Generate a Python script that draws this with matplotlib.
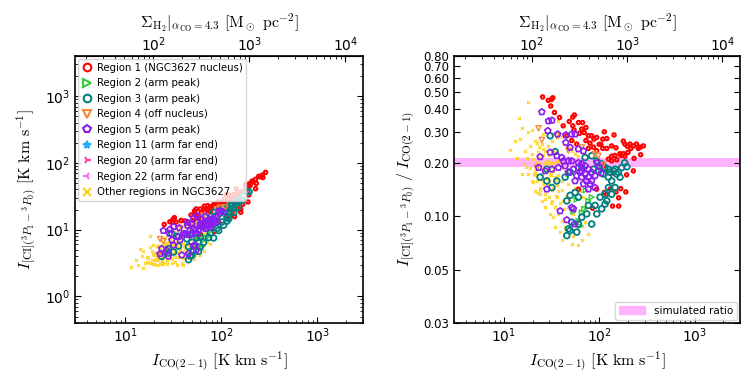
import numpy as np
import matplotlib.pyplot as plt
from matplotlib.lines import Line2D
from matplotlib.patches import Patch
from matplotlib.ticker import (FixedLocator, FormatStrFormatter, NullLocator, NullFormatter,
                               LogFormatterSciNotation)

plt.rcParams['mathtext.fontset'] = 'cm'
plt.rcParams['font.family'] = ['DejaVu Sans']
plt.rcParams['xtick.direction'] = 'in'
plt.rcParams['ytick.direction'] = 'in'

# I_CO(2-1) [K km/s] and CI/CO ratio
co_r1 = [25.5, 29.2, 31.6, 32.6, 31.0, 33.9, 38.3, 55, 52.8, 48.5, 52.8, 60.6, 66.9, 72.5, 65.5, 69.5,
         77, 83.4, 88, 94, 109, 113, 143, 120, 104, 109, 120, 135, 150, 179, 186, 197, 210, 228, 246,
         268, 290, 257, 215, 200, 179, 165, 146, 135, 125, 153, 169, 186, 232, 272, 94, 72.5, 62, 54.4,
         41.9, 45.7, 51.5, 58.1, 77, 86.9, 113, 135, 141, 194, 228, 80, 100, 60.6, 94, 113, 120, 150,
         168, 190, 160, 138, 160, 85, 130]
ratio_r1 = [0.47, 0.45, 0.455, 0.465, 0.418, 0.384, 0.36, 0.372, 0.362, 0.342, 0.323, 0.337, 0.337,
            0.316, 0.31, 0.296, 0.284, 0.284, 0.272, 0.278, 0.272, 0.299, 0.287, 0.274, 0.254, 0.241,
            0.241, 0.249, 0.243, 0.265, 0.255, 0.248, 0.255, 0.249, 0.255, 0.245, 0.249, 0.241, 0.241,
            0.229, 0.225, 0.225, 0.22, 0.218, 0.21, 0.208, 0.22, 0.218, 0.212, 0.222, 0.234, 0.267, 0.293,
            0.306, 0.323, 0.284, 0.267, 0.255, 0.241, 0.245, 0.192, 0.205, 0.175, 0.171, 0.18, 0.258,
            0.254, 0.142, 0.142, 0.136, 0.133, 0.137, 0.143, 0.137, 0.127, 0.114, 0.114, 0.111, 0.142]

co_r2 = [58, 60.5, 63, 69.5, 65.6, 53.6, 77, 83.4, 47.5, 72]
ratio_r2 = [0.124, 0.094, 0.088, 0.11, 0.105, 0.106, 0.122, 0.128, 0.173, 0.14]

co_r3 = [30.6, 34.5, 28.2, 24.0, 35.9, 43.9, 49.5, 65.6, 71.1, 83.4, 94.2, 106, 125, 141, 152, 165,
         172, 135, 125, 115, 102, 90.4, 77, 74, 65.6, 60.5, 51.5, 47.5, 45.7, 49.5, 58.1, 83.4, 94.2,
         106, 115, 120, 135, 147, 49.5, 55.8, 60.5, 45.7, 31.9, 28.2, 115, 130, 147, 159, 110, 125, 98,
         87, 185, 195]
ratio_r3 = [0.284, 0.231, 0.184, 0.166, 0.158, 0.166, 0.177, 0.188, 0.214, 0.219, 0.205, 0.197, 0.184,
            0.18, 0.173, 0.166, 0.188, 0.158, 0.145, 0.133, 0.128, 0.115, 0.115, 0.103, 0.0986, 0.0903,
            0.0924, 0.0848, 0.0777, 0.083, 0.0813, 0.0903, 0.103, 0.11, 0.117, 0.122, 0.133, 0.145,
            0.131, 0.136, 0.128, 0.122, 0.145, 0.158, 0.188, 0.177, 0.184, 0.177, 0.173, 0.166, 0.18,
            0.184, 0.2, 0.19]

co_r4 = [23.1, 25, 35.9, 22.2, 98, 110, 90, 47.5, 65.6]
ratio_r4 = [0.313, 0.269, 0.284, 0.188, 0.219, 0.195, 0.224, 0.234, 0.244]

co_r5 = [25.0, 29.4, 31.9, 28.9, 36.7, 44.6, 51.5, 55.8, 44.6, 49.5, 60.5, 68.3, 24, 30.6, 35.9, 40.5,
         37.3, 43.9, 51.5, 60.5, 65.6, 71.1, 77, 83.4, 68.3, 77, 90.4, 65.6, 55.8, 47.5, 31.9, 27.1,
         23.1, 28.2, 38.9, 45.7, 55, 51.5, 53.6, 60.5, 65.6, 71.1, 77, 83.4, 90.4, 73.5, 80, 63, 58,
         53.6, 47.5, 42.2, 100, 95, 105]
ratio_r5 = [0.387, 0.344, 0.347, 0.303, 0.29, 0.287, 0.29, 0.29, 0.26, 0.244, 0.239, 0.233, 0.216,
            0.229, 0.219, 0.214, 0.188, 0.192, 0.205, 0.2, 0.18, 0.173, 0.166, 0.158, 0.152, 0.142,
            0.145, 0.166, 0.158, 0.177, 0.184, 0.18, 0.188, 0.142, 0.107, 0.0953, 0.0903, 0.112, 0.11,
            0.188, 0.197, 0.192, 0.184, 0.177, 0.169, 0.158, 0.152, 0.177, 0.169, 0.184, 0.205, 0.205,
            0.19, 0.2, 0.175]

co_r11, ratio_r11 = [], []
co_r20, ratio_r20 = [], []
co_r22, ratio_r22 = [], []

co_other = [18.1, 14.3, 11.6, 13.7, 14.8, 18.1, 19.6, 21.3, 23.1, 25.0, 27.1, 19.6, 17.4, 16.1, 18.9,
            21.3, 25.0, 22.2, 24.0, 27.1, 29.4, 25.0, 31.9, 34.5, 37.3, 40.5, 34.5, 38.9, 43.9, 51.5,
            60.5, 65.6, 77.1, 71.1, 68.3, 63, 55.8, 47.5, 40.5, 37.3, 34.5, 30.6, 28.2, 31.9, 35.9,
            40.5, 45.7, 51.5, 55.8, 60.5, 23.1, 19.6, 26, 29.4, 33.1, 35.9, 42.2, 47.5, 53.6, 27.1,
            30.6, 33.1, 25, 22.2, 20.5, 18.1, 15.4, 16.7, 53.6, 47.5, 35.9, 40.5, 21.3, 24, 40.5, 53.6,
            65.6, 71.1, 15.4, 13.1, 37.3, 31.9,
            20, 22, 24, 26, 28, 30, 32, 21, 23, 25, 27, 29, 31, 33, 35, 19, 22, 26, 30, 34, 38, 24, 28,
            32, 36, 20, 23, 27, 31, 35, 39, 43, 17, 26, 29, 33, 37, 41, 45, 48]
ratio_other = [0.441, 0.36, 0.236, 0.214, 0.272, 0.3, 0.305, 0.266, 0.244, 0.255, 0.234, 0.224, 0.214,
               0.197, 0.188, 0.18, 0.173, 0.158, 0.145, 0.133, 0.128, 0.122, 0.122, 0.112, 0.103,
               0.0943, 0.0865, 0.0813, 0.0865, 0.0699, 0.0684, 0.073, 0.0795, 0.112, 0.128, 0.139,
               0.145, 0.152, 0.158, 0.139, 0.166, 0.173, 0.205, 0.266, 0.278, 0.278, 0.25, 0.234,
               0.224, 0.219, 0.214, 0.158, 0.152, 0.158, 0.145, 0.128, 0.122, 0.112, 0.103, 0.112,
               0.103, 0.0986, 0.188, 0.2, 0.173, 0.173, 0.173, 0.234, 0.266, 0.214, 0.205, 0.188,
               0.139, 0.133, 0.073, 0.0777, 0.0884, 0.0924, 0.316, 0.266, 0.344, 0.29,
               0.21, 0.19, 0.2, 0.22, 0.18, 0.2, 0.19, 0.17, 0.23, 0.16, 0.2, 0.15, 0.17, 0.18, 0.16,
               0.25, 0.26, 0.24, 0.22, 0.23, 0.2, 0.14, 0.165, 0.14, 0.15, 0.155, 0.135, 0.125, 0.118,
               0.13, 0.118, 0.11, 0.19, 0.29, 0.25, 0.2, 0.17, 0.14, 0.13, 0.125]

sim_ratio = (0.19, 0.214)
sigma_per_ico = 5.1   # Sigma_H2 (alpha_CO=4.3) per unit I_CO(2-1)
sigma_ticks = [1e2, 1e3, 1e4]
ratio_ticks = [0.025, 0.05, 0.1, 0.2, 0.3, 0.4, 0.5, 0.6, 0.7, 0.8]

# label, co, ratio, marker, color, size, lw, filled
regions = [
    ('Region 1 (NGC3627 nucleus)', co_r1, ratio_r1, 'o', '#ff0000', 6, 1.5, False),
    ('Region 2 (arm peak)', co_r2, ratio_r2, '>', '#33cc33', 12, 1.0, False),
    ('Region 3 (arm peak)', co_r3, ratio_r3, 'o', '#008080', 17, 1.3, False),
    ('Region 4 (off nucleus)', co_r4, ratio_r4, 'v', '#f5883a', 14, 1.0, False),
    ('Region 5 (arm peak)', co_r5, ratio_r5, 'p', '#8a1cf0', 20, 1.2, False),
    ('Region 11 (arm far end)', co_r11, ratio_r11, '*', '#22aaff', 20, 1.0, True),
    ('Region 20 (arm far end)', co_r20, ratio_r20, '4', '#ff3fa0', 20, 1.2, True),
    ('Region 22 (arm far end)', co_r22, ratio_r22, '3', '#ff66ff', 20, 1.2, True),
    ('Other regions in NGC3627', co_other, ratio_other, 'x', '#ffd21a', 5, 0.8, True),
]

fig = plt.figure(figsize=(7.47, 3.74), dpi=100)
ax1 = fig.add_axes([0.1004, 0.1364, 0.3855, 0.7139])
ax2 = fig.add_axes([0.6078, 0.1364, 0.3829, 0.7139])

# others go underneath
draw_order = [regions[-1]] + regions[:-1]
for label, co, ratio, mk, col, s, lw, filled in draw_order:
    if len(co) == 0:
        continue
    co = np.array(co)
    ratio = np.array(ratio)
    ci = co * ratio
    kw = dict(marker=mk, s=s, linewidths=lw, zorder=3)
    if filled:
        kw['color'] = col
    else:
        kw['facecolors'] = 'none'
        kw['edgecolors'] = col
    ax1.scatter(co, ci, **kw)
    ax2.scatter(co, ratio, **kw)

ax2.axhspan(*sim_ratio, color='#ffb3ff', lw=0, zorder=1)

handles = []
for label, co, ratio, mk, col, s, lw, filled in regions:
    handles.append(Line2D([], [], ls='none', marker=mk, ms=5.5, mew=1.5,
                          mec=col, mfc=col if filled else 'none', label=label))
ax1.legend(handles=handles, loc='upper left', fontsize=7.3, handlelength=1.0,
           handletextpad=0.5, labelspacing=0.55, borderpad=0.35, borderaxespad=0.3,
           edgecolor='#cccccc')
ax2.legend(handles=[Patch(color='#ffb3ff', label='simulated ratio')], loc='lower right',
           fontsize=7.5, handlelength=2.5, borderaxespad=0.3, edgecolor='#cccccc')

lab_co = r'$I_{\rm CO(2-1)}\ [{\rm K\ km\ s^{-1}}]$'
lab_ci = r'$I_{{\rm [CI]}({}^3P_1-{}^3P_0)}$'
lab_sig = r'$\Sigma_{\rm H_2}|_{\alpha_{\rm CO}=4.3}\ [{\rm M_\odot\ pc^{-2}}]$'

for ax in (ax1, ax2):
    ax.set_xscale('log')
    ax.set_yscale('log')
    ax.set_xlim(3, 3000)
    ax.set_xlabel(lab_co, fontsize=11.5, labelpad=3)
    ax.tick_params(which='both', top=False, right=True, labelsize=10)
    ax.tick_params(which='major', length=4)
    ax.tick_params(which='minor', length=2)
    ax.tick_params(axis='x', pad=2.5)
    sec = ax.secondary_xaxis('top', functions=(lambda x: x * sigma_per_ico,
                                               lambda x: x / sigma_per_ico))
    sec.xaxis.set_major_locator(FixedLocator(sigma_ticks))
    sec.xaxis.set_major_formatter(LogFormatterSciNotation())
    sec.xaxis.set_minor_formatter(NullFormatter())
    sec.tick_params(which='both', direction='in', labelsize=10, pad=1.5)
    sec.tick_params(which='major', length=4)
    sec.tick_params(which='minor', length=2)
    sec.set_xlabel(lab_sig, fontsize=11.5, labelpad=5)
    for sp in ax.spines.values():
        sp.set_linewidth(1.2)

ax1.set_ylim(0.4, 4000)
ax1.set_ylabel(lab_ci + r'$\ [{\rm K\ km\ s^{-1}}]$', fontsize=11.5)

ax2.set_ylim(0.025, 0.8)
ax2.yaxis.set_major_locator(FixedLocator(ratio_ticks))
ax2.yaxis.set_major_formatter(FormatStrFormatter('%.2f'))
ax2.yaxis.set_minor_locator(NullLocator())
ax2.tick_params(axis='y', labelsize=8.5)
ax2.set_ylabel(lab_ci + r'$\ /\ I_{\rm CO(2-1)}$', fontsize=11.5)

fig.savefig('out.png', dpi=100)
